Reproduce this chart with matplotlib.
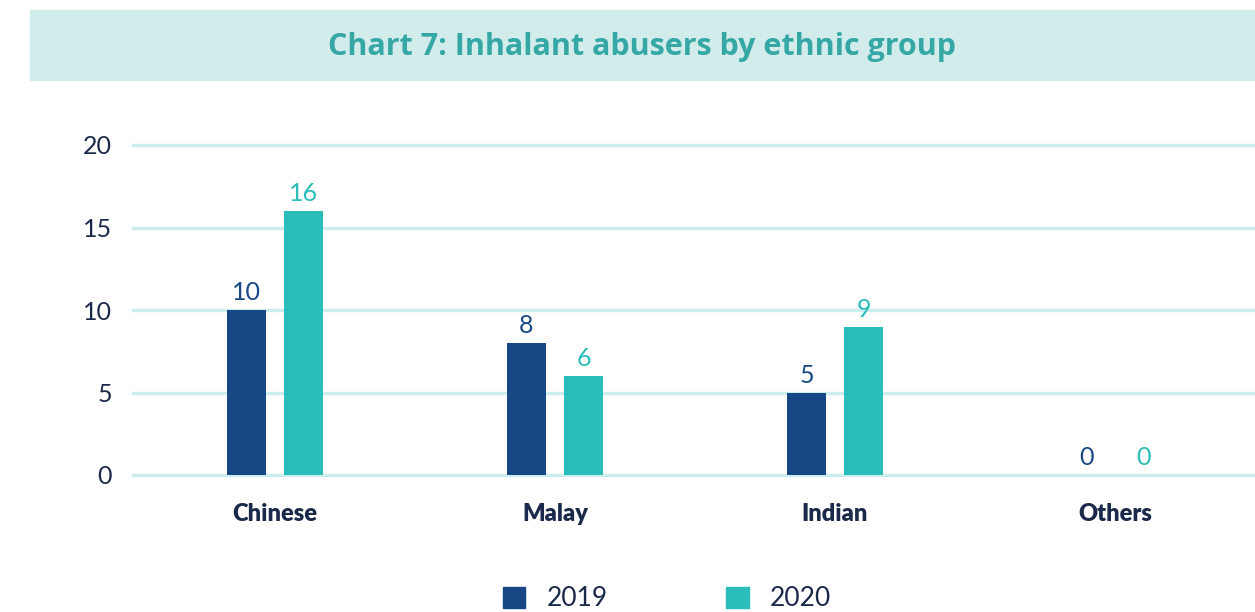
import matplotlib.pyplot as plt
import matplotlib.patches as mpatches
import numpy as np

# data
categories = ["Chinese", "Malay", "Indian", "Others"]
years = ["2019", "2020"]
vals_2019 = [10, 8, 5, 0]
vals_2020 = [16, 6, 9, 0]
yticks = [0, 5, 10, 15, 20]

c2019 = "#174785"
c2020 = "#2bbdb9"
navy = "#1b2a4a"
grid_c = "#cdeeee"

plt.rcParams['font.family'] = ['Lato', 'DejaVu Sans']

fig = plt.figure(figsize=(12.55, 6.12), dpi=100)

# title banner
fig.patches.append(mpatches.Rectangle((30 / 1255, 1 - 80 / 612), 1 - 30 / 1255, 70 / 612,
                                      transform=fig.transFigure, color="#d2ecec", zorder=0))
fig.text(642 / 1255, 1 - 47 / 612, "Chart 7: Inhalant abusers by ethnic group",
         ha="center", va="center", fontsize=22, fontweight="bold", color="#35a8a5",
         family=["Open Sans", "DejaVu Sans"])

ax = fig.add_axes([133 / 1255, 1 - 475 / 612, 1 - 133 / 1255, 330 / 612])

x = np.arange(len(categories))
w = 0.139
off = 0.102
b1 = ax.bar(x - off, vals_2019, w, color=c2019, zorder=3)
b2 = ax.bar(x + off, vals_2020, w, color=c2020, zorder=3)

for bars, vals, col in [(b1, vals_2019, c2019), (b2, vals_2020, c2020)]:
    for r, v in zip(bars, vals):
        ax.text(r.get_x() + r.get_width() / 2, v + 0.35, str(v), ha="center", va="bottom",
                fontsize=18, color=col)

ax.set_xlim(-0.507, 3.5)
ax.set_ylim(0, 20)
ax.set_yticks(yticks)
for t in yticks:
    ax.axhline(t, color=grid_c, lw=2.5, zorder=1, clip_on=False)
ax.set_xticks(x)
ax.set_xticklabels(categories, fontsize=17, fontweight="heavy", color=navy)
ax.tick_params(axis="x", length=0, pad=20)
ax.tick_params(axis="y", length=0, pad=15, labelsize=18, labelcolor=navy)
for s in ax.spines.values():
    s.set_visible(False)

# legend
handles = [mpatches.Patch(color=c2019, label=years[0]), mpatches.Patch(color=c2020, label=years[1])]
fig.legend(handles=handles, loc="center", bbox_to_anchor=(667 / 1255, 1 - 599 / 612), ncol=2,
           frameon=False, fontsize=19, handlelength=0.85, handleheight=0.85,
           columnspacing=4.5, handletextpad=0.8, labelcolor=navy)

fig.savefig("out.png", dpi=100)
